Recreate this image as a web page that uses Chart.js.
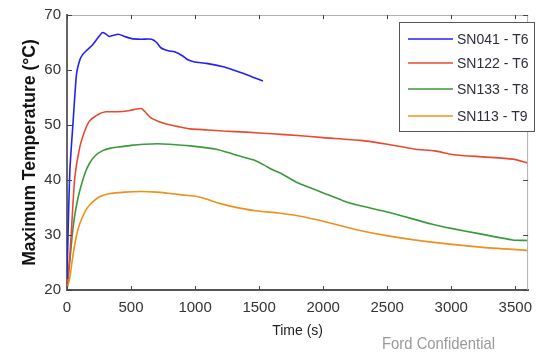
<!DOCTYPE html>
<html>
<head>
<meta charset="utf-8">
<script src="https://cdn.jsdelivr.net/npm/chart.js@4/dist/chart.umd.min.js"></script>
<style>
  body { margin: 0; background: #fff; }
  #wrap { width: 541px; height: 353px; position: relative; }
</style>
</head>
<body>
<div id="wrap"><canvas id="chart"></canvas></div>
<script>
// series labels and colours
let seriesLabels = ["SN041 - T6", "SN122 - T6", "SN133 - T8", "SN113 - T9"];
let seriesColors = ["#2222f2", "#e84a30", "#3a9a3a", "#f0901c"];
let xTickValues = [0, 500, 1000, 1500, 2000, 2500, 3000, 3500];

// values (time in s, temperature in C)
let blueTime = [0, 10, 23, 48, 74, 100, 122, 160, 200, 240, 275, 300, 330, 400, 450, 505, 580, 660, 700, 735, 790, 840, 900, 940, 990, 1090, 1220, 1300, 1373, 1450, 1530];
let blueTemp = [22, 32, 42, 50.7, 59.2, 61.8, 62.8, 63.7, 64.6, 65.8, 66.8, 66.6, 66.1, 66.5, 66.1, 65.7, 65.6, 65.6, 65.0, 64.0, 63.5, 63.3, 62.6, 61.9, 61.5, 61.2, 60.6, 60.0, 59.4, 58.7, 58.0];

let redTime = [0, 20, 36, 61, 99, 140, 175, 250, 303, 350, 450, 520, 580, 610, 650, 720, 790, 870, 960, 1100, 1220, 1400, 1600, 1800, 2000, 2290, 2500, 2720, 2870, 3020, 3250, 3480, 3600];
let redTemp = [21, 25.5, 31.4, 40.5, 45.9, 49.0, 50.7, 52.0, 52.4, 52.4, 52.5, 52.8, 53.0, 52.4, 51.4, 50.6, 50.1, 49.7, 49.3, 49.1, 48.9, 48.7, 48.4, 48.1, 47.7, 47.2, 46.5, 45.6, 45.3, 44.6, 44.2, 43.8, 43.1];

let greenTime = [0, 10, 25, 48, 75, 99, 140, 175, 220, 275, 340, 404, 500, 600, 709, 800, 961, 1167, 1297, 1400, 1472, 1540, 1602, 1678, 1800, 1853, 2006, 2159, 2258, 2517, 2845, 3000, 3227, 3478, 3600];
let greenTemp = [21, 22.4, 26, 31.5, 35.5, 38, 41.2, 43, 44.4, 45.3, 45.8, 46.0, 46.3, 46.5, 46.6, 46.5, 46.2, 45.6, 44.7, 44.0, 43.5, 42.7, 41.9, 41.1, 39.5, 39.0, 37.6, 36.2, 35.5, 34.1, 32.0, 31.2, 30.2, 29.1, 29.0];

let orangeTime = [0, 20, 48, 75, 99, 140, 175, 250, 328, 450, 580, 700, 786, 900, 1015, 1080, 1167, 1266, 1472, 1650, 1800, 2000, 2250, 2517, 2845, 3227, 3600];
let orangeTemp = [20.3, 22, 26.5, 30, 32, 34.2, 35.4, 36.9, 37.5, 37.8, 37.9, 37.8, 37.6, 37.3, 37.0, 36.6, 35.9, 35.3, 34.4, 34.0, 33.5, 32.5, 31.0, 29.8, 28.7, 27.8, 27.2];

let allTimes = [blueTime, redTime, greenTime, orangeTime];
let allTemps = [blueTemp, redTemp, greenTemp, orangeTemp];

function toPoints(xs, ys) {
    return xs.map(function (x, i) { return { x: x, y: ys[i] }; });
}

let datasets = seriesLabels.map(function (label, i) {
    return {
        label: label,
        data: toPoints(allTimes[i], allTemps[i]),
        borderColor: seriesColors[i],
        backgroundColor: seriesColors[i],
        borderWidth: 1.6,
        pointRadius: 0,
        tension: 0.2,
        fill: false
    };
});

// box round the plot, inward tick marks, legend and watermark text
let framePlugin = {
    id: "frame",
    afterDraw: function (chart) {
        let ctx = chart.ctx;
        let a = chart.chartArea;
        ctx.save();
        ctx.strokeStyle = "#b0b0b0";
        ctx.lineWidth = 1;
        ctx.beginPath();
        ctx.moveTo(a.left, a.top + 0.5);
        ctx.lineTo(a.right - 0.5, a.top + 0.5);
        ctx.lineTo(a.right - 0.5, a.bottom);
        ctx.stroke();

        ctx.strokeStyle = "#444";
        ctx.lineWidth = 1;
        let xs = chart.scales.x;
        xs.ticks.forEach(function (t, i) {
            let px = Math.round(xs.getPixelForTick(i)) + 0.5;
            ctx.beginPath();
            ctx.moveTo(px, a.bottom);
            ctx.lineTo(px, a.bottom - 4);
            ctx.moveTo(px, a.top);
            ctx.lineTo(px, a.top + 4);
            ctx.stroke();
        });
        let ys = chart.scales.y;
        ys.ticks.forEach(function (t, i) {
            let py = Math.round(ys.getPixelForTick(i)) + 0.5;
            ctx.beginPath();
            ctx.moveTo(a.left, py);
            ctx.lineTo(a.left + 5, py);
            ctx.moveTo(a.right, py);
            ctx.lineTo(a.right - 5, py);
            ctx.stroke();
        });

        // legend box
        let bx = 399, by = 22, bw = 135, bh = 109;
        ctx.fillStyle = "#fff";
        ctx.fillRect(bx, by, bw, bh);
        ctx.strokeStyle = "#555";
        ctx.strokeRect(bx + 0.5, by + 0.5, bw, bh);
        ctx.font = "14px 'Liberation Sans', Arial, sans-serif";
        ctx.textBaseline = "middle";
        ctx.textAlign = "left";
        let rows = [39, 63, 89, 116];
        chart.data.datasets.forEach(function (ds, i) {
            ctx.strokeStyle = ds.borderColor;
            ctx.lineWidth = 1.6;
            ctx.beginPath();
            ctx.moveTo(408, rows[i]);
            ctx.lineTo(453, rows[i]);
            ctx.stroke();
            ctx.fillStyle = "#2e2e3a";
            ctx.fillText(ds.label, 457, rows[i] + 1);
        });

        // squeezed like the original narrow font
        let mark = "Ford Confidential";
        ctx.fillStyle = "#9a9a9a";
        ctx.font = "17px 'Liberation Sans', Arial, sans-serif";
        ctx.textBaseline = "alphabetic";
        let sx = 113 / ctx.measureText(mark).width;
        ctx.translate(382, 349);
        ctx.scale(sx, 1);
        ctx.fillText(mark, 0, 0);
        ctx.restore();
    }
};

let chart = new Chart(document.getElementById("chart").getContext("2d"), {
    type: "line",
    data: { datasets: datasets },
    options: {
        responsive: true,
        maintainAspectRatio: false,
        animation: false,
        layout: { padding: { top: 13, right: 1, left: 0, bottom: 0 } },
        plugins: {
            legend: { display: false },
            tooltip: { enabled: false }
        },
        scales: {
            x: {
                type: "linear",
                min: 0,
                max: 3600,
                afterFit: function (scale) { scale.height = 63; },
                afterBuildTicks: function (scale) {
                    scale.ticks = xTickValues.map(function (v) { return { value: v }; });
                },
                grid: { display: true, drawOnChartArea: false, drawTicks: false },
                border: { display: true, color: "#555", width: 2 },
                ticks: {
                    padding: 9,
                    color: "#333",
                    font: { family: "'Liberation Sans', Arial, sans-serif", size: 15 },
                    maxRotation: 0,
                    callback: function (v) { return String(v); }
                },
                title: {
                    display: true,
                    text: "Time (s)",
                    color: "#222",
                    font: { family: "'Liberation Sans', Arial, sans-serif", size: 14 },
                    padding: { top: 0, bottom: 13 }
                }
            },
            y: {
                min: 20,
                max: 70,
                afterFit: function (scale) { scale.width = 67; },
                grid: { display: true, drawOnChartArea: false, drawTicks: false },
                border: { display: true, color: "#666", width: 2 },
                ticks: {
                    stepSize: 10,
                    padding: 6,
                    color: "#333",
                    font: { family: "'Liberation Sans', Arial, sans-serif", size: 15 }
                },
                title: {
                    display: true,
                    text: "Maximum Temperature (°C)",
                    color: "#111",
                    font: { family: "'Liberation Sans', Arial, sans-serif", size: 17.5, weight: "bold" },
                    padding: { top: 20, bottom: 0 }
                }
            }
        }
    },
    plugins: [framePlugin]
});
</script>
</body>
</html>
